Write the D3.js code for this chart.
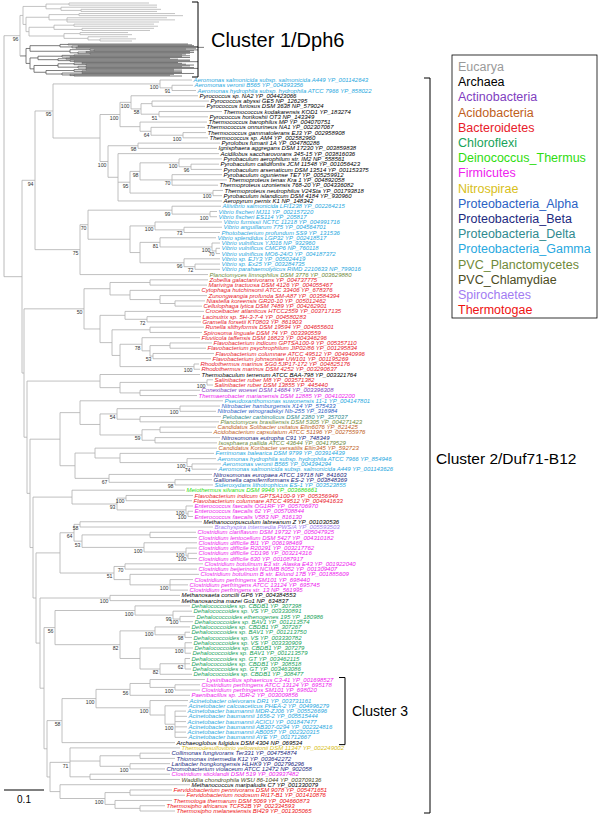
<!DOCTYPE html>
<html><head><meta charset="utf-8">
<script src="https://cdn.jsdelivr.net/npm/d3@7/dist/d3.min.js"></script>
<style>body{margin:0;background:#fff}svg{display:block}</style>
</head><body><svg id="c" width="600" height="832"></svg>
<script>
// ---------------- DATA ----------------
const groups = ["Eucarya","Archaea","Actinobacteria","Acidobacteria","Bacteroidetes","Chloroflexi","Deinococcus_Thermus","Firmicutes","Nitrospirae","Proteobacteria_Alpha","Proteobacteria_Beta","Proteobacteria_Delta","Proteobacteria_Gamma","PVC_Planctomycetes","PVC_Chlamydiae","Spirochaetes","Thermotogae"];
const groupCodes = ["Euc","Arc","Act","Aci","Bac","Chl","Dei","Fir","Nit","Alp","Bet","Del","Gam","Pla","Cla","Spi","The"];
const groupColors = ["#9a9a9a","#000000","#8040c0","#c0601c","#e8202a","#17a35a","#2fdc10","#ee22ee","#d8c01a","#2a62c4","#1c2a80","#2f8a8f","#28a8e0","#6f8a3a","#4d4d1f","#a27cf2","#ee1111"];

const leafNames = [
"Aeromonas salmonicida subsp. salmonicida A449 YP_001142643","Aeromonas veronii B565 YP_004393356","Aeromonas hydrophila subsp. hydrophila ATCC 7966 YP_858022",
"Pyrococcus sp. NA2 YP_004423066","Pyrococcus abyssi GE5 NP_126295","Pyrococcus furiosus DSM 3638 NP_579024","Thermococcus kodakarensis KOD1 YP_183274","Pyrococcus horikoshii OT3 NP_143349","Thermococcus barophilus MP YP_004070751","Thermococcus onnurineus NA1 YP_002307067","Thermococcus gammatolerans EJ3 YP_002958908","Thermococcus sp. AM4 YP_002582960",
"Pyrolobus fumarii 1A YP_004780286","Ignisphaera aggregans DSM 17230 YP_003859838","Acidilobus saccharovorans 345-15 YP_003816036","Pyrobaculum aerophilum str. IM2 NP_558561","Pyrobaculum calidifontis JCM 11548 YP_001056423","Pyrobaculum arsenaticum DSM 13514 YP_001153375","Pyrobaculum oguniense TE7 YP_005259912","Thermoproteus tenax Kra 1 YP_004892058","Thermoproteus uzoniensis 768-20 YP_004336082","Thermoproteus neutrophilus V24Sta YP_001793818","Pyrobaculum islandicum DSM 4184 YP_930960","Aeropyrum pernix K1 NP_148342",
"Aliivibrio salmonicida LFI1238 YP_002264215","Vibrio fischeri MJ11 YP_002157220","Vibrio fischeri ES114 YP_205817","Vibrio furnissii NCTC 11218 YP_004991716","Vibrio anguillarum 775 YP_004564701","Photobacterium profundum SS9 YP_131536","Vibrio splendidus LGP32 YP_002418517","Vibrio vulnificus YJ016 NP_932960","Vibrio vulnificus CMCP6 NP_760118","Vibrio vulnificus MO6-24/O YP_004187372","Vibrio sp. EJY3 YP_005024419","Vibrio sp. Ex25 YP_003284735","Vibrio parahaemolyticus RIMD 2210633 NP_799016",
"Planctomyces limnophilus DSM 3776 YP_003629880",
"Zobellia galactanivorans YP_004737775","Marivirga tractuosa DSM 4126 YP_004055467","Cytophaga hutchinsonii ATCC 33406 YP_678376","Zunongwangia profunda SM-A87 YP_003584394","Niastella koreensis GR20-10 YP_005012462","Cellulophaga lytica DSM 7489 YP_004262901","Croceibacter atlanticus HTCC2559 YP_003717135","Lacinutrix sp. 5H-3-7-4 YP_004580283","Gramella forsetii KT0803 YP_861903","Runella slithyformis DSM 19594 YP_004655601","Spirosoma linguale DSM 74 YP_003390559","Fluviicola taffensis DSM 16823 YP_004346296","Flavobacterium indicum GPTSA100-9 YP_005357110","Flavobacterium psychrophilum JIP02/86 YP_001295834","Flavobacterium columnare ATCC 49512 YP_004940996","Flavobacterium johnsoniae UW101 YP_001195269","Rhodothermus marinus SG0.5JP17-172 YP_004825176","Rhodothermus marinus DSM 4252 YP_003290637",
"Thermobaculum terrenum ATCC BAA-798 YP_003321764","Salinibacter ruber M8 YP_003571382","Salinibacter ruber DSM 13855 YP_445440","Conexibacter woesei DSM 14684 YP_003396308","Thermaerobacter marianensis DSM 12885 YP_004102200",
"Pseudoxanthomonas suwonensis 11-1 YP_004147801","Nitrobacter hamburgensis X14 YP_575433","Nitrobacter winogradskyi Nb-255 YP_316984","Pelobacter carbinolicus DSM 2380 YP_357037","Planctomyces brasiliensis DSM 5305 YP_004271423","Candidatus Solibacter usitatus Ellin6076 YP_821425","Acidobacterium capsulatum ATCC 51196 YP_002755976","Nitrosomonas eutropha C91 YP_748349","Isosphaera pallida ATCC 43644 YP_004179529","Candidatus Koribacter versatilis Ellin345 YP_592723","Ferrimonas balearica DSM 9799 YP_003914439","Aeromonas hydrophila subsp. hydrophila ATCC 7966 YP_854946","Aeromonas veronii B565 YP_004394294","Aeromonas salmonicida subsp. salmonicida A449 YP_001143626","Nitrosomonas europaea ATCC 19718 NP_841603","Gallionella capsiferriformans ES-2 YP_003848369","Sideroxydans lithotrophicus ES-1 YP_003523855",
"Meiothermus silvanus DSM 9946 YP_003686661","Flavobacterium indicum GPTSA100-9 YP_005356949","Flavobacterium columnare ATCC 49512 YP_004941633","Enterococcus faecalis OG1RF YP_005706970","Enterococcus faecalis 62 YP_005708844","Enterococcus faecalis V583 NP_816130",
"Methanocorpusculum labreanum Z YP_001030536","Brachyspira intermedia PWS/A YP_005593503","Clostridium clariflavum DSM 19732 YP_005047925","Clostridium lentocellum DSM 5427 YP_004310182","Clostridium difficile BI1 YP_006198469","Clostridium difficile R20291 YP_003217762","Clostridium difficile CD196 YP_003214316","Clostridium difficile 630 YP_001087917","Clostridium botulinum E3 str. Alaska E43 YP_001922040","Clostridium beijerinckii NCIMB 8052 YP_001309407","Clostridium botulinum B str. Eklund 17B YP_001885609","Clostridium perfringens SM101 YP_698440","Clostridium perfringens ATCC 13124 YP_695745","Clostridium perfringens str. 13 NP_561995",
"Methanosaeta concilii GP6 YP_004384553","Methanosarcina mazei Go1 NP_634837",
"Dehalococcoides sp. CBDB1 YP_307398","Dehalococcoides sp. VS YP_003330891","Dehalococcoides ethenogenes 195 YP_180986","Dehalococcoides sp. BAV1 YP_001213574","Dehalococcoides sp. CBDB1 YP_307267","Dehalococcoides sp. BAV1 YP_001213750","Dehalococcoides sp. VS YP_003330782","Dehalococcoides sp. VS YP_003330909","Dehalococcoides sp. CBDB1 YP_307279","Dehalococcoides sp. BAV1 YP_001213579","Dehalococcoides sp. GT YP_003462115","Dehalococcoides sp. CBDB1 YP_308518","Dehalococcoides sp. GT YP_003463086","Dehalococcoides sp. CBDB1 YP_308477",
"Lysinibacillus sphaericus C3-41 YP_001698527","Clostridium perfringens ATCC 13124 YP_695178","Clostridium perfringens SM101 YP_698020","Paenibacillus sp. JDR-2 YP_003009856","Acinetobacter oleivorans DR1 YP_003731161","Acinetobacter calcoaceticus PHEA-2 YP_004996279","Acinetobacter baumannii MDR-ZJ06 YP_005526696","Acinetobacter baumannii 1656-2 YP_005515444","Acinetobacter baumannii ACICU YP_001847477","Acinetobacter baumannii AB307-0294 YP_002324816","Acinetobacter baumannii AB0057 YP_002320315","Acinetobacter baumannii AYE YP_001712667","Archaeoglobus fulgidus DSM 4304 NP_069534",
"Thermodesulfovibrio yellowstonii DSM 11347 YP_002249002","Collimonas fungivorans Ter331 YP_004754874","Thiomonas intermedia K12 YP_003642272","Laribacter hongkongensis HLHK9 YP_002796296","Chromobacterium violaceum ATCC 12472 NP_902058","Clostridium sticklandii DSM 519 YP_003937482","Waddlia chondrophila WSU 86-1044 YP_003709136","Methanococcus maripaludis C7 YP_001330079","Fervidobacterium pennivorans DSM 9078 YP_005471651","Fervidobacterium nodosum Rt17-B1 YP_001410876","Thermotoga thermarum DSM 5069 YP_004660873","Thermosipho africanus TCF52B YP_002334593","Thermosipho melanesiensis BI429 YP_001305065"
];
const leafGroup = [
"Gam","Gam","Gam",
"Arc","Arc","Arc","Arc","Arc","Arc","Arc","Arc","Arc",
"Arc","Arc","Arc","Arc","Arc","Arc","Arc","Arc","Arc","Arc","Arc","Arc",
"Gam","Gam","Gam","Gam","Gam","Gam","Gam","Gam","Gam","Gam","Gam","Gam","Gam",
"Pla",
"Bac","Bac","Bac","Bac","Bac","Bac","Bac","Bac","Bac","Bac","Bac","Bac","Bac","Bac","Bac","Bac","Bac","Bac",
"Arc","Bac","Bac","Act","Fir",
"Gam","Alp","Alp","Del","Pla","Aci","Aci","Bet","Pla","Aci","Gam","Gam","Gam","Gam","Bet","Bet","Gam",
"Dei","Bac","Bac","Fir","Fir","Fir",
"Arc","Spi","Fir","Fir","Fir","Fir","Fir","Fir","Fir","Fir","Fir","Fir","Fir","Fir",
"Arc","Arc",
"Chl","Chl","Chl","Chl","Chl","Chl","Chl","Chl","Chl","Chl","Chl","Chl","Chl","Chl",
"Fir","Fir","Fir","Fir","Gam","Gam","Gam","Gam","Gam","Gam","Gam","Gam","Arc",
"Nit","Bet","Bet","Bet","Bet","Fir","Cla","Arc","The","The","The","The","The"
];

// Cluster 1 (Dph6, eukaryotic, unlabeled) sub-clades, Newick with branch lengths (subst./site)
const c1LightA  = "((g:0.2,g:0.22):0.0575,(g:0.24,(g:0.2,g:0.19):0.05):0.0375):0.0575";
const c1LightB1 = "((g:0.24,g:0.26):0.075,(g:0.25,g:0.27,g:0.23):0.045):0.0575";
const c1LightB2 = "(((g:0.2,g:0.21):0.05,(g:0.18,g:0.17):0.07):0.0625,((g:0.12,g:0.13):0.04,(g:0.1,(g:0.09,g:0.08):0.03):0.06):0.0875):0.0075";
const c1DarkA   = "(((g:0.3,g:0.31):0.02,((g:0.29,g:0.3):0.015,(g:0.32,g:0.3):0.01):0.03):0.075,((g:0.24,(g:0.26,g:0.25):0.01):0.05,((g:0.26,g:0.27):0.02,(g:0.25,g:0.24):0.03):0.02):0.1):0.01";
const c1DarkB   = "((((g:0.27,g:0.29):0.03,(g:0.28,g:0.3):0.02):0.06,((g:0.26,g:0.28):0.02,(g:0.3,(g:0.29,g:0.31):0.01):0.03):0.05):0.02,((((g:0.24,g:0.25):0.02,(g:0.25,g:0.27):0.03):0.04,((g:0.26,g:0.24):0.02,(g:0.27,g:0.28):0.02):0.05):0.06,(((g:0.22,g:0.24):0.03,(g:0.23,g:0.25):0.02):0.07,((g:0.25,g:0.28):0.05,(g:0.26,(g:0.24,g:0.27):0.01):0.02):0.04):0.03):0.01):0.01";

// Cluster 2 sub-clades (leaf Lk = leafNames[k-1]; internal labels = bootstrap)
const cAeromonas1 = "(L1:0.08,(L2:0.0525,L3:0.06)91:0.03)100:0.2675";
const cArchaea = "(((L4:0.1675,((L5:0.1425,L6:0.1325):0.0275,(L7:0.1575,L8:0.1225)51:0.045)58:0.025)100:0.0275,(L9:0.1675,(L10:0.135,(L11:0.0575,L12:0.0625)100:0.08)64:0.0275):0.05)100:0.05,((L13:0.205,L14:0.1975)98:0.075,(L15:0.2525,(((L16:0.1075,(L17:0.07,L18:0.0775)96:0.03)100:0.0975,(L19:0.125,L20:0.1375,L21:0.115)70:0.08)98:0.025,(L22:0.025,L23:0.0225)100:0.2075)95:0.03,L24:0.26):0.025)100:0.02):0.1175";
const cVibrio = "(((L25:0.1225,(L26:0.0175,L27:0.0175)100:0.095)99:0.21,((L28:0.1675,(L29:0.095,L30:0.09)73:0.0725)100:0.0625,((L31:0.14,(L32:0.02,(L33:0.01,L34:0.01)70:0.01)100:0.13)81:0.05,(L35:0.09,(L36:0.0625,L37:0.0625)72:0.0275)96:0.11):0.025):0.105)70:0.02,L38:0.32)75:0.1125";
const cBacteroidetes = "(((L39:0.145,L40:0.1425):0.1,(L41:0.175,(L42:0.1175,(L43:0.075,L44:0.0675):0.0375):0.075):0.05):0.065,((L45:0.1975,(L46:0.135,L47:0.135)72:0.055):0.0625,((L48:0.135,L49:0.13):0.095,((L50:0.145,((L51:0.105,L52:0.09):0.05,(L53:0.1525,L54:0.145)53:0.0075):0.02)78:0.055,(L55:0.0125,L56:0.015)100:0.185):0.02):0.03):0.04)50:0.15";
const cMixed1 = "(L57:0.25,((L58:0.015,L59:0.015)100:0.2175,(L60:0.15,L61:0.1425):0.05):0.05):0.1825";
const cMixed2 = "((L62:0.3575,(((L63:0.1,L64:0.09)100:0.1575,(L65:0.2025,L66:0.1975):0.0575)54:0.0425,((L67:0.14,L68:0.13):0.045,(L69:0.1625,L70:0.155):0.0325)59:0.105):0.05):0.05,((L71:0.305,(L72:0.235,(L73:0.0725,(L74:0.0725,L75:0.0625)74:0.0125)100:0.1675):0.0625):0.05,(L76:0.2575,(L77:0.0925,L78:0.095)98:0.165)67:0.085):0.0375):0.075";
const cMixed3 = "(L79:0.2825,((L80:0.1675,L81:0.165)100:0.0225,(L82:0.0175,(L83:0.0125,L84:0.0125)100:0.005)100:0.1725)93:0.1125):0.0975";
const cClostridia = "(((L85:0.305,L86:0.3325)58:0.015,((L87:0.115,L88:0.1175):0.17,(L89:0.1325,(L90:0.0275,(L91:0.0225,L92:0.0225)100:0.005)100:0.105)100:0.155)53:0.02)64:0.035,((L93:0.195,L94:0.18)70:0.0275,(L95:0.1725,(L96:0.0575,L97:0.045,L98:0.045)100:0.1):0.04)51:0.135):0.06";
const cMethanosarc = "(L99:0.175,L100:0.175)100:0.175";
const cDehalo = "((L101:0.1375,(L102:0.0475,(L103:0.0375,L104:0.0325)100:0.0175)99:0.095)100:0.2,((L105:0.0875,(L106:0.0125,L107:0.0175)98:0.075)100:0.0875,((L108:0.0175,L109:0.02,L110:0.015)100:0.1125,((L111:0.0125,L112:0.0125,L113:0.015)62:0.0625,L114:0.08)82:0.05):0.05)82:0.1625)56:0.0275";
const cCluster3 = "((((L115:0.1375,(L116:0.0625,L117:0.0625)100:0.0625):0.05,L118:0.15)56:0.085,(L119:0.095,(L120:0.055,(L121:0.0275,L122:0.03,L123:0.0275,L124:0.03,L125:0.0275,L126:0.03)100:0.025):0.0375)100:0.135)100:0.085,L127:0.2825)58:0.0375";
const cBottom = "((L128:0.275,((L129:0.075,L130:0.0875):0.1,(L131:0.1,L132:0.0875)100:0.075):0.075,(L133:0.2,L134:0.225):0.05)71:0.05,(L135:0.325,((L136:0.105,L137:0.1375):0.0625,(L138:0.1425,(L139:0.0625,L140:0.0875):0.0625):0.025)100:0.1125):0.025):0.0075";

const clusterNames = ["Cluster 1/Dph6","Cluster 2/Duf71-B12","Cluster 3"];
const clusterFirstLeaf = ["g","L1","L115"];
const clusterLastLeaf  = ["g","L140","L127"];
const scaleBarValue = 0.1;

// ---------------- ASSEMBLE TREE ----------------
const c1Light = "(" + c1LightA + ",(" + c1LightB1 + "," + c1LightB2 + "):0.0075):0.0075";
const c1Dark  = "(" + c1DarkA + "," + c1DarkB + "):0.015";
const cluster1 = "(" + c1Light + "," + c1Dark + ")96:0.04";
let spine = "(" + cCluster3 + "," + cBottom + "):0.0075";
spine = "(" + cDehalo + "," + spine + "):0.01";
spine = "(" + cMethanosarc + "," + spine + "):0.01";
spine = "(" + cClostridia + "," + spine + "):0.0075";
spine = "(" + cMixed3 + "," + spine + "):0.0075";
spine = "(" + cMixed2 + "," + spine + "):0.0075";
spine = "(" + cMixed1 + "," + spine + "):0.0075";
spine = "(" + cBacteroidetes + "," + spine + "):0.005";
const n94 = "((" + cAeromonas1 + "," + cArchaea + ")95:0.045," + cVibrio + ")94:0.0325";
const cluster2 = "(" + n94 + "," + spine + "):0.045";
const treeNewick = "(" + cluster1 + "," + cluster2 + ");";

function parseNewick(s){
  let i=0;
  function node(){
    const n={};
    if(s[i]==='('){
      n.children=[]; i++;
      n.children.push(node());
      while(s[i]===','){ i++; n.children.push(node()); }
      i++;
    }
    let name='';
    while(i<s.length && !':,();'.includes(s[i])) name+=s[i++];
    n.name=name.trim();
    n.length=0;
    if(s[i]===':'){ i++; let num=''; while(i<s.length && !',();'.includes(s[i])) num+=s[i++]; n.length=+num; }
    return n;
  }
  return node();
}

// ---------------- LAYOUT ----------------
const W=600,H=832;
const svg=d3.select('#c');
svg.append('rect').attr('width',W).attr('height',H).attr('fill','#fff');
const FONT="'Liberation Sans', Arial, Helvetica, sans-serif";

const root=d3.hierarchy(parseNewick(treeNewick), d=>d.children);
root.eachBefore(d=>{ d.dist = d.parent ? d.parent.dist + (d.data.length||0) : 0; });
const x=d3.scaleLinear().domain([0,scaleBarValue]).range([4,44]);
const c1=root.children[0];
const lightSub=c1.children[0], darkSub=c1.children[1];
const lightLeaves=lightSub.leaves(), darkLeaves=darkSub.leaves();
const yLight=d3.scaleLinear().domain([0,lightLeaves.length-1]).range([3,41]);
const yDark=d3.scaleLinear().domain([0,darkLeaves.length-1]).range([44,76]);
lightLeaves.forEach((d,i)=>{ d.y=yLight(i); });
darkLeaves.forEach((d,i)=>{ d.y=yDark(i); });
const leaves=root.leaves();
const grayLeaves=leaves.filter(d=>d.data.name==='g');
const yLeaf=d3.scaleLinear().domain([0,leafNames.length-1]).range([80,811]);
leaves.forEach(d=>{ if(d.data.name!=='g'){ d.idx=+d.data.name.slice(1)-1; d.y=yLeaf(d.idx); } });
root.eachAfter(d=>{
  if(d.children){ d.y=(d.children[0].y+d.children[d.children.length-1].y)/2; }
  d.x=x(d.dist);
});
root.each(d=>{ d.kind='c2'; });
c1.each(d=>{ d.kind='light'; });
darkSub.each(d=>{ d.kind='dark'; });
root.kind='root';
const lineColor={c2:'#b0b0b0',light:'#b4b4b4',dark:'#5a5a5a',root:'#a8a8a8'};

const gTree=svg.append('g');
gTree.selectAll('line.h').data(root.descendants().filter(d=>d.parent)).join('line')
  .attr('x1',d=>d.parent.x).attr('x2',d=>d.x).attr('y1',d=>d.y).attr('y2',d=>d.y)
  .attr('stroke',d=>lineColor[d.kind]).attr('stroke-width',0.8);
gTree.selectAll('line.v').data(root.descendants().filter(d=>d.children)).join('line')
  .attr('x1',d=>d.x).attr('x2',d=>d.x)
  .attr('y1',d=>d.children[0].y).attr('y2',d=>d.children[d.children.length-1].y)
  .attr('stroke',d=>lineColor[d.kind]).attr('stroke-width',0.8);

// bootstrap values
svg.append('g').selectAll('text').data(root.descendants().filter(d=>d.children && d.data.name)).join('text')
  .attr('x',d=>d.x-1.5).attr('y',d=>d.y+5.4)
  .attr('text-anchor','end').attr('font-family',FONT).attr('font-size',5.2).attr('fill','#333')
  .text(d=>d.data.name);

// leaf labels
const colorOf=code=>groupColors[groupCodes.indexOf(code)];
svg.append('g').selectAll('text').data(leaves.filter(d=>d.data.name!=='g')).join('text')
  .attr('x',d=>d.x+1.5).attr('y',d=>d.y+2.1)
  .attr('font-family',FONT).attr('font-size',6).attr('font-style','italic')
  .attr('fill',d=>colorOf(leafGroup[d.idx]))
  .text(d=>leafNames[d.idx]);

// cluster brackets
function spanOf(k){
  if(clusterFirstLeaf[k]==='g') return [d3.min(grayLeaves,d=>d.y)-1, d3.max(grayLeaves,d=>d.y)+1];
  const a=leaves.find(d=>d.data.name===clusterFirstLeaf[k]).y, b=leaves.find(d=>d.data.name===clusterLastLeaf[k]).y;
  return [a-2,b+2];
}
const bracketX=[198,430,345], labelX=[211,436,352], labelSize=[20,15.5,14], labelDy=[7,18,5];
clusterNames.forEach((nm,k)=>{
  const [a,b]=spanOf(k);
  const bx=bracketX[k];
  svg.append('path').attr('d',`M${bx-6},${a}H${bx}V${b}H${bx-6}`).attr('fill','none').attr('stroke','#000').attr('stroke-width',1);
  svg.append('text').attr('x',labelX[k]).attr('y',(a+b)/2+labelDy[k])
    .attr('font-family',FONT).attr('font-size',labelSize[k]).attr('fill','#000').text(nm);
});

// legend
const lg=svg.append('g');
lg.append('rect').attr('x',452).attr('y',55).attr('width',145).attr('height',263).attr('fill','#fff').attr('stroke','#000').attr('stroke-width',0.8);
lg.selectAll('text').data(groups).join('text')
  .attr('x',458).attr('y',(d,i)=>71+i*15.2)
  .attr('font-family',FONT).attr('font-size',12.5).attr('fill',(d,i)=>groupColors[i]).text(d=>d);

// scale bar
svg.append('line').attr('x1',x(0)).attr('x2',x(scaleBarValue)).attr('y1',790).attr('y2',790).attr('stroke','#000').attr('stroke-width',1);
svg.append('text').attr('x',(x(0)+x(scaleBarValue))/2).attr('y',803).attr('text-anchor','middle')
  .attr('font-family',FONT).attr('font-size',10).text(String(scaleBarValue));
</script>
</body></html>
